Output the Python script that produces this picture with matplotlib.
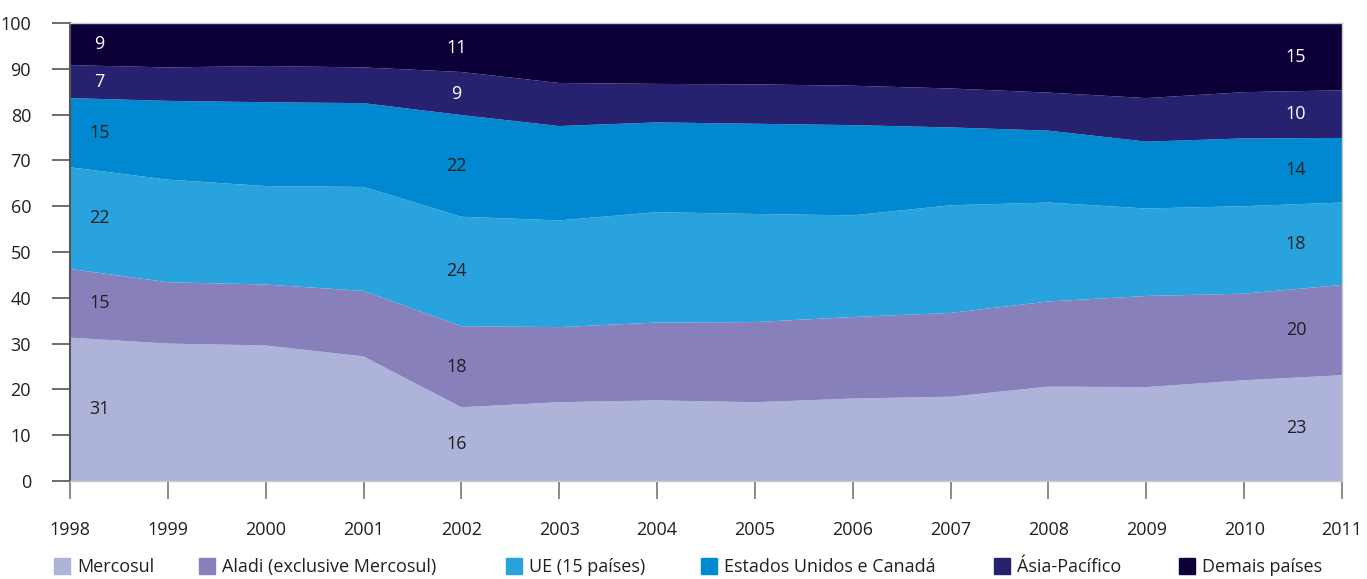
import numpy as np
import matplotlib
matplotlib.use("Agg")
import matplotlib.pyplot as plt
from matplotlib.patches import Rectangle

plt.rcParams['font.family'] = ['Open Sans', 'DejaVu Sans']

anos = [1998, 1999, 2000, 2001, 2002, 2003, 2004, 2005, 2006, 2007, 2008, 2009, 2010, 2011]

# participação (%) por bloco
mercosul = [31.3, 30.0, 29.6, 27.2, 16.1, 17.2, 17.6, 17.2, 18.0, 18.4, 20.6, 20.5, 22.0, 23.1]
aladi    = [15.0, 13.4, 13.3, 14.3, 17.7, 16.4, 17.0, 17.5, 17.8, 18.3, 18.6, 19.9, 18.9, 19.7]
ue       = [22.2, 22.4, 21.5, 22.7, 23.9, 23.3, 24.1, 23.6, 22.2, 23.5, 21.6, 19.1, 19.1, 18.0]
eua      = [15.1, 17.2, 18.3, 18.3, 22.2, 20.6, 19.6, 19.7, 19.7, 17.0, 15.7, 14.6, 14.8, 14.1]
asia     = [7.2, 7.3, 7.9, 7.8, 9.4, 9.4, 8.4, 8.6, 8.6, 8.5, 8.3, 9.5, 10.1, 10.4]
demais   = [9.2, 9.7, 9.4, 9.7, 10.7, 13.1, 13.3, 13.4, 13.7, 14.3, 15.2, 16.4, 15.1, 14.7]

nomes = ['Mercosul', 'Aladi (exclusive Mercosul)', 'UE (15 países)',
         'Estados Unidos e Canadá', 'Ásia-Pacífico', 'Demais países']
cores = ['#adb3d9', '#8780bb', '#29a3dd', '#0089d0', '#272270', '#0d0038']
cor_txt = ['#231f20', '#231f20', '#231f20', '#231f20', 'white', 'white']

# anos com rótulos e onde ficam no eixo x
anos_rot = [1998, 2002, 2011]
x_rot = [1998.3, 2001.95, 2010.53]

series = [mercosul, aladi, ue, eua, asia, demais]

fig = plt.figure(figsize=(13.67, 5.79), dpi=100)
ax = fig.add_axes([70/1367, 1 - 481/579, (1342 - 70)/1367, (481 - 23)/579])

ax.stackplot(anos, *series, colors=cores, linewidth=0)

ax.set_xlim(1998, 2011)
ax.set_ylim(0, 100)
ax.set_xticks(anos)
ax.set_yticks(range(0, 101, 10))

for s in ['top', 'right', 'bottom']:
    ax.spines[s].set_color('#c8c8c8')
    ax.spines[s].set_linewidth(1.0)
ax.spines['left'].set_color('#555555')
ax.spines['left'].set_linewidth(1.5)

fs = 13
ax.tick_params(axis='x', length=13, width=1.2, color='#777777', pad=16,
               labelsize=fs, labelcolor='#231f20')
ax.tick_params(axis='y', length=13, width=1.2, color='#555555', pad=15,
               labelsize=fs, labelcolor='#231f20')

# rótulos de valores
arr = np.array(series)
acum = np.cumsum(arr, axis=0)
for ano, xr in zip(anos_rot, x_rot):
    i = anos.index(ano)
    for k in range(len(series)):
        base = acum[k - 1, i] if k > 0 else 0
        meio = base + arr[k, i] / 2
        ax.text(xr, meio, str(int(round(arr[k, i]))), ha='center', va='center',
                fontsize=fs, color=cor_txt[k])

# legenda
leg_x = [54, 199, 506, 701, 994, 1179]
for nome, cor, lx in zip(nomes, cores, leg_x):
    fig.patches.append(Rectangle((lx/1367, 1 - 574/579), 16/1367, 16/579,
                                 transform=fig.transFigure, color=cor))
    fig.text((lx + 23)/1367, 1 - 567/579, nome, ha='left', va='center',
             fontsize=fs, color='#231f20')

fig.savefig('out.png', dpi=100)
